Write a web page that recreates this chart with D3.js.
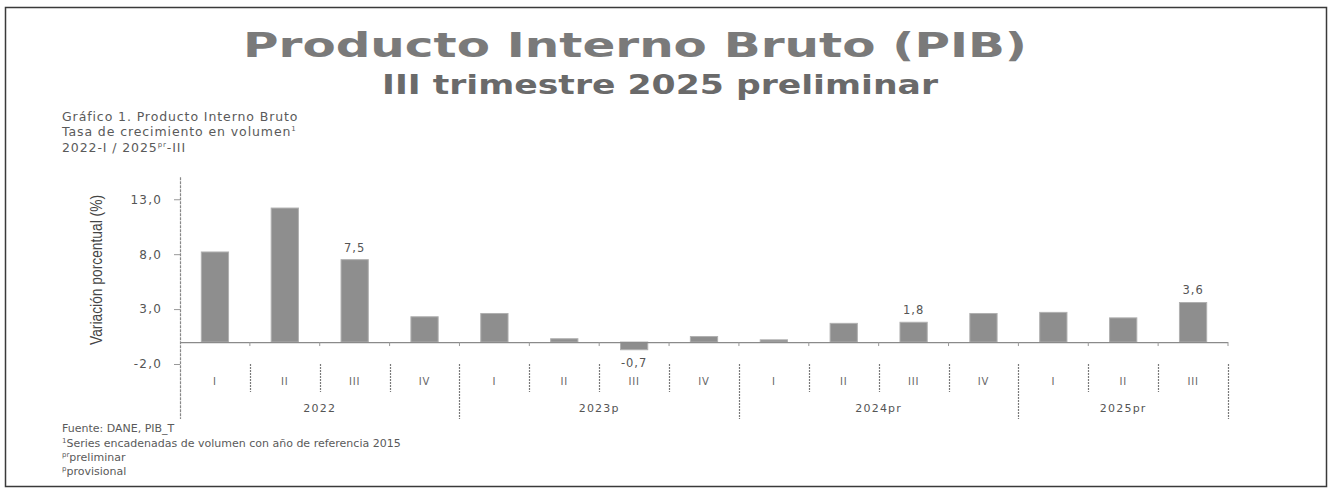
<!DOCTYPE html>
<html>
<head>
<meta charset="utf-8">
<script src="https://cdn.jsdelivr.net/npm/d3@7"></script>
<style>
html,body{margin:0;padding:0;background:#fff;}
svg{display:block;}
</style>
</head>
<body>
<svg id="chart" width="1330" height="495"></svg>
<script>
// ---- data ----
const quarters = ["I","II","III","IV","I","II","III","IV","I","II","III","IV","I","II","III"];
const yearOfBar = [0,0,0,0,1,1,1,1,2,2,2,2,3,3,3];
const years = ["2022","2023p","2024pr","2025pr"];
const values = [8.2, 12.2, 7.5, 2.3, 2.6, 0.3, -0.7, 0.5, 0.2, 1.7, 1.8, 2.6, 2.7, 2.2, 3.6];
const shownLabels = ["", "", "7,5", "", "", "", "-0,7", "", "", "", "1,8", "", "", "", "3,6"];
const yTicks = [-2, 3, 8, 13];
const yTickLabels = ["-2,0", "3,0", "8,0", "13,0"];

const FONT = "DejaVu Sans, Verdana, sans-serif";
const svg = d3.select("#chart");
svg.append("rect").attr("width",1330).attr("height",495).attr("fill","#fff");

// frame
svg.append("rect").attr("x",5.5).attr("y",7.5).attr("width",1321).attr("height",479)
  .attr("fill","none").attr("stroke","#3a3a3a").attr("stroke-width",1.5);

// titles
svg.append("text").attr("x",635).attr("y",57).attr("text-anchor","middle")
  .attr("font-family",FONT).attr("font-weight","bold")
  .attr("font-size",34).attr("fill","#7a7a7a")
  .attr("textLength",784).attr("lengthAdjust","spacingAndGlyphs")
  .text("Producto Interno Bruto (PIB)");
svg.append("text").attr("x",660).attr("y",94).attr("text-anchor","middle")
  .attr("font-family",FONT).attr("font-weight","bold")
  .attr("font-size",26).attr("fill","#6a6a6a")
  .attr("textLength",556).attr("lengthAdjust","spacingAndGlyphs")
  .text("III trimestre 2025 preliminar");

const head = svg.append("g").attr("font-family",FONT)
  .attr("font-size",12.5).attr("letter-spacing",0.9).attr("fill","#5a5a5a");
head.append("text").attr("x",62).attr("y",121).text("Gráfico 1. Producto Interno Bruto");
const h2 = head.append("text").attr("x",62).attr("y",136);
h2.append("tspan").text("Tasa de crecimiento en volumen");
h2.append("tspan").attr("font-size",7).attr("dy",-5).text("1");
const h3 = head.append("text").attr("x",62).attr("y",152);
h3.append("tspan").text("2022-I / 2025");
h3.append("tspan").attr("font-size",7).attr("dy",-5).text("pr");
h3.append("tspan").attr("dy",5).text("-III");

// scales
const x = d3.scaleBand().domain(d3.range(quarters.length)).range([180,1228]).padding(0);
const y = d3.scaleLinear().domain([-2,15]).range([364,177.3]);
const barW = x.bandwidth()*0.39;

// y axis
const yAxis = d3.axisLeft(y).tickValues(yTicks).tickFormat((d,i)=>yTickLabels[i]).tickSize(6).tickSizeOuter(0);
const ya = svg.append("g").attr("transform","translate(180,0)").call(yAxis);
ya.select(".domain").remove();
ya.selectAll(".tick line").attr("stroke","#999");
ya.selectAll(".tick text").attr("font-family",FONT)
  .attr("font-size",12).attr("letter-spacing",1.2).attr("fill","#555").attr("x",-18);
svg.append("line").attr("x1",180.5).attr("x2",180.5).attr("y1",y(15)).attr("y2",419)
  .attr("stroke","#888").attr("stroke-width",1.2).attr("stroke-dasharray","3,1");

svg.append("text").attr("transform","translate(102,270) rotate(-90)")
  .attr("text-anchor","middle")
  .attr("font-family","Liberation Sans Narrow, Arial Narrow, Liberation Sans, sans-serif")
  .attr("font-size",16).attr("fill","#444")
  .attr("textLength",150).attr("lengthAdjust","spacingAndGlyphs")
  .text("Variación porcentual (%)");

// bars
svg.append("g").selectAll("rect").data(values).join("rect")
  .attr("x",(d,i)=>x(i)+(x.bandwidth()-barW)/2)
  .attr("width",barW)
  .attr("y",d=>y(Math.max(0,d)))
  .attr("height",d=>Math.abs(y(d)-y(0)))
  .attr("fill","#8e8e8e").attr("stroke","#b0b0b0").attr("stroke-width",1);

// zero line
svg.append("line").attr("x1",180).attr("x2",1228).attr("y1",y(0)+0.5).attr("y2",y(0)+0.5)
  .attr("stroke","#8a8a8a").attr("stroke-width",1.2);
// category tick marks on zero line
svg.append("g").selectAll("line").data(d3.range(1,quarters.length+1)).join("line")
  .attr("x1",i=>x(i-1)+x.bandwidth()).attr("x2",i=>x(i-1)+x.bandwidth())
  .attr("y1",y(0)).attr("y2",y(0)+4).attr("stroke","#999");

// data labels
svg.append("g").selectAll("text").data(values).join("text")
  .attr("x",(d,i)=>x(i)+x.bandwidth()/2)
  .attr("y",d=> d<0 ? y(d)+17 : y(d)-8)
  .attr("text-anchor","middle")
  .attr("font-family",FONT).attr("font-size",11.5).attr("letter-spacing",1)
  .attr("fill","#555")
  .text((d,i)=>shownLabels[i]);

// category axis (multi-level)
const catG = svg.append("g");
const dividers = d3.range(1,quarters.length+1);
catG.selectAll("line").data(dividers).join("line")
  .attr("x1",i=>Math.round(x(i-1)+x.bandwidth())+0.5)
  .attr("x2",i=>Math.round(x(i-1)+x.bandwidth())+0.5)
  .attr("y1",364)
  .attr("y2",i=> (i===quarters.length || yearOfBar[i]!==yearOfBar[i-1]) ? 419 : 392)
  .attr("stroke","#7a7a7a").attr("stroke-width",1.2).attr("stroke-dasharray","2,1");
catG.selectAll("text.q").data(quarters).join("text").attr("class","q")
  .attr("x",(d,i)=>x(i)+x.bandwidth()/2).attr("y",385)
  .attr("text-anchor","middle")
  .attr("font-family",FONT).attr("font-size",10).attr("letter-spacing",0.8)
  .attr("fill","#666").text(d=>d);
catG.selectAll("text.yr").data(years).join("text").attr("class","yr")
  .attr("x",(d,k)=>{
    const idx = d3.range(quarters.length).filter(i=>yearOfBar[i]===k);
    return (x(idx[0]) + x(idx[idx.length-1]) + x.bandwidth())/2;
  })
  .attr("y",412).attr("text-anchor","middle")
  .attr("font-family",FONT).attr("font-size",11).attr("letter-spacing",1.2)
  .attr("fill","#555").text(d=>d);

// footer
const foot = svg.append("g").attr("font-family",FONT)
  .attr("font-size",11).attr("fill","#5a5a5a");
foot.append("text").attr("x",62).attr("y",432).text("Fuente: DANE, PIB_T");
const f2 = foot.append("text").attr("x",62).attr("y",447);
f2.append("tspan").attr("font-size",7).attr("dy",-4).text("1");
f2.append("tspan").attr("dy",4).text("Series encadenadas de volumen con año de referencia 2015");
const f3 = foot.append("text").attr("x",62).attr("y",461);
f3.append("tspan").attr("font-size",7).attr("dy",-4).text("pr");
f3.append("tspan").attr("dy",4).text("preliminar");
const f4 = foot.append("text").attr("x",62).attr("y",475);
f4.append("tspan").attr("font-size",7).attr("dy",-4).text("p");
f4.append("tspan").attr("dy",4).text("provisional");
</script>
</body>
</html>
